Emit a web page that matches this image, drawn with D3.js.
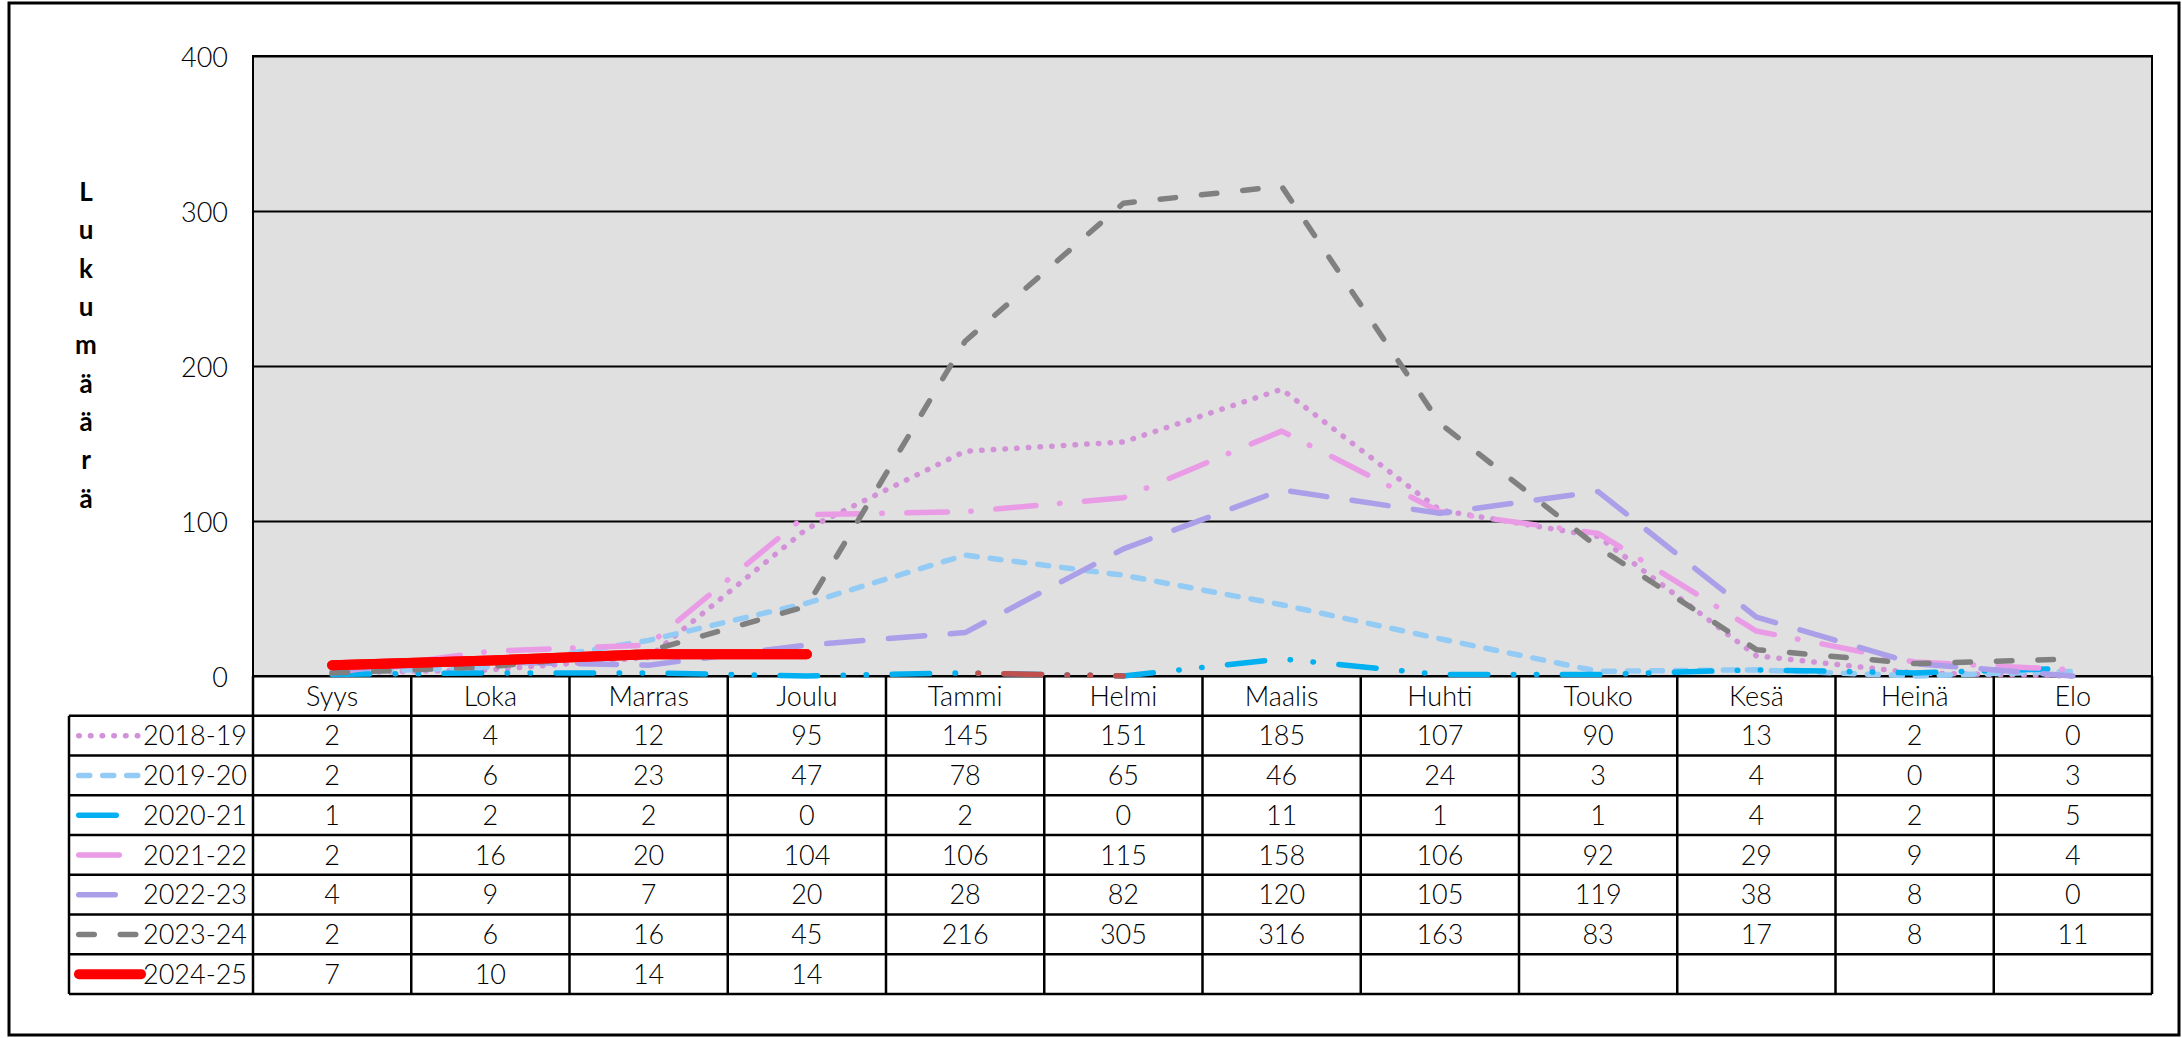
<!DOCTYPE html>
<html>
<head>
<meta charset="utf-8">
<script src="https://cdn.jsdelivr.net/npm/d3@7"></script>
<style>
  body { margin: 0; background: #fff; }
  svg text { font-family: "Century Gothic", Lato, sans-serif; font-weight: 300; fill: #000; }
</style>
</head>
<body>
<svg id="chart" width="2182" height="1038"></svg>
<script>
// months on the x axis / table header
var months = ["Syys", "Loka", "Marras", "Joulu", "Tammi", "Helmi", "Maalis", "Huhti", "Touko", "Kesä", "Heinä", "Elo"]
var seasons = ["2018-19", "2019-20", "2020-21", "2021-22", "2022-23", "2023-24", "2024-25"]

var v2018 = [2, 4, 12, 95, 145, 151, 185, 107, 90, 13, 2, 0]
var v2019 = [2, 6, 23, 47, 78, 65, 46, 24, 3, 4, 0, 3]
var v2020 = [1, 2, 2, 0, 2, 0, 11, 1, 1, 4, 2, 5]
var v2021 = [2, 16, 20, 104, 106, 115, 158, 106, 92, 29, 9, 4]
var v2022 = [4, 9, 7, 20, 28, 82, 120, 105, 119, 38, 8, 0]
var v2023 = [2, 6, 16, 45, 216, 305, 316, 163, 83, 17, 8, 11]
var v2024 = [7, 10, 14, 14]

var yTicks = [0, 100, 200, 300, 400]
var yTitle = "Lukumäärä"

// line styles per season
var styles = [
    {color: "#d292d8", width: 5.5, dash: "0.5,11.2"},
    {color: "#93cbf5", width: 5.5, dash: "11,13"},
    {color: "#00b0f0", width: 5.5, dash: "37.5,25.5,0.5,22.5,0.5,25.5"},
    {color: "#ea9be6", width: 5.5, dash: "40.5,23.5,0.5,24.5"},
    {color: "#aa9fe8", width: 5.5, dash: "36.5,25.5"},
    {color: "#808080", width: 5.5, dash: "15.5,26"},
    {color: "#ff0000", width: 10, dash: null}
]

var series = [v2018, v2019, v2020, v2021, v2022, v2023, v2024].map(function(vals, i) {
    return {name: seasons[i], values: vals, style: styles[i]}
})

var margin = {top: 56, right: 30, left: 253, bottom: 676}
var plotRight = 2152
var legendLeft = 69
var tableBottom = 994

var svg = d3.select("#chart")

// outer frame
svg.append("rect")
    .attr("x", 9).attr("y", 3)
    .attr("width", 2170).attr("height", 1032)
    .attr("fill", "none").attr("stroke", "#000").attr("stroke-width", 3)

var x = d3.scaleBand()
    .domain(months)
    .range([margin.left, plotRight])
    .paddingInner(0).paddingOuter(0)

var y = d3.scaleLinear()
    .domain([0, 400])
    .range([margin.bottom, margin.top])

// plot background
svg.append("rect")
    .attr("x", margin.left).attr("y", margin.top)
    .attr("width", plotRight - margin.left)
    .attr("height", margin.bottom - margin.top)
    .attr("fill", "#e0e0e0")
    .attr("stroke", "#000").attr("stroke-width", 2)

// gridlines + tick labels
var yAxis = svg.append("g")
    .attr("transform", "translate(" + margin.left + ",0)")
    .call(d3.axisLeft(y)
        .tickValues(yTicks)
        .tickSizeInner(-(plotRight - margin.left))
        .tickSizeOuter(0)
        .tickPadding(25))
yAxis.select(".domain").remove()
yAxis.selectAll("line").attr("stroke", "#000").attr("stroke-width", 2)
yAxis.selectAll("text")
    .attr("font-size", 27)
    .attr("dy", "0.38em")
    .style("font-family", "'Century Gothic', Lato, sans-serif")
    .style("font-weight", 300)

// vertical axis title, one letter per line
svg.append("g").selectAll("text")
    .data(yTitle.split(""))
    .enter()
    .append("text")
    .attr("x", 86)
    .attr("y", function(d, i) { return 192 + i * 38.3 })
    .attr("dy", "0.35em")
    .attr("text-anchor", "middle")
    .attr("font-size", 26)
    .style("font-weight", "bold")
    .text(function(d) { return d })

// lines
var line = d3.line()
    .x(function(d, i) { return x(months[i]) + x.bandwidth() / 2 })
    .y(function(d) { return y(d) })

var lines = svg.append("g")
series.forEach(function(s) {
    lines.append("path")
        .datum(s.values)
        .attr("d", line)
        .attr("fill", "none")
        .attr("stroke", s.style.color)
        .attr("stroke-width", s.style.width)
        .attr("stroke-linecap", "round")
        .attr("stroke-linejoin", "round")
        .attr("stroke-dasharray", s.style.dash)
})

// 2020-21: Tammi -> Helmi segment is drawn in a different colour in the original
var s2020 = series[2]
var tmp = lines.append("path").attr("d", line(s2020.values.slice(0, 5)))
var offset = tmp.node().getTotalLength()
tmp.remove()
var segLine = d3.line()
    .x(function(d, i) { return x(months[i + 4]) + x.bandwidth() / 2 })
    .y(function(d) { return y(d) })
lines.append("path")
    .datum(s2020.values.slice(4, 6))
    .attr("d", segLine)
    .attr("fill", "none")
    .attr("stroke", "#c0504d")
    .attr("stroke-width", s2020.style.width)
    .attr("stroke-linecap", "round")
    .attr("stroke-dasharray", s2020.style.dash)
    .attr("stroke-dashoffset", offset)

// re-draw the current season on top
lines.append("path")
    .datum(series[6].values)
    .attr("d", line)
    .attr("fill", "none")
    .attr("stroke", series[6].style.color)
    .attr("stroke-width", series[6].style.width)
    .attr("stroke-linecap", "round")

// data table
var rows = d3.scaleBand()
    .domain(["header"].concat(seasons))
    .range([margin.bottom, tableBottom])

var table = svg.append("g")

// header
table.selectAll(".hdr")
    .data(months)
    .enter()
    .append("text")
    .attr("class", "hdr")
    .attr("x", function(d) { return x(d) + x.bandwidth() / 2 })
    .attr("y", rows("header") + rows.bandwidth() / 2)
    .attr("dy", "0.36em")
    .attr("text-anchor", "middle")
    .attr("font-size", 27)
    .text(function(d) { return d })

var rowG = table.selectAll(".row")
    .data(series)
    .enter()
    .append("g")
    .attr("class", "row")
    .attr("transform", function(d) { return "translate(0," + rows(d.name) + ")" })

rowG.selectAll(".val")
    .data(function(d) { return d.values })
    .enter()
    .append("text")
    .attr("class", "val")
    .attr("x", function(d, i) { return x(months[i]) + x.bandwidth() / 2 })
    .attr("y", rows.bandwidth() / 2)
    .attr("dy", "0.36em")
    .attr("text-anchor", "middle")
    .attr("font-size", 27)
    .text(function(d) { return d })

// legend label + sample line
rowG.append("text")
    .attr("x", 247)
    .attr("y", rows.bandwidth() / 2)
    .attr("dy", "0.36em")
    .attr("text-anchor", "end")
    .attr("font-size", 27)
    .text(function(d) { return d.name })

rowG.append("line")
    .attr("x1", function(d) { return d.style.width > 6 ? 79 : 78.75 })
    .attr("x2", function(d) { return d.style.width > 6 ? 141 : 140 })
    .attr("y1", rows.bandwidth() / 2)
    .attr("y2", rows.bandwidth() / 2)
    .attr("stroke", function(d) { return d.style.color })
    .attr("stroke-width", function(d) { return d.style.width })
    .attr("stroke-linecap", "round")
    .attr("stroke-dasharray", function(d) { return d.style.dash })

// table grid
var hLines = seasons.map(function(s) { return rows(s) }).concat([tableBottom])
table.selectAll(".hl")
    .data(hLines)
    .enter()
    .append("line")
    .attr("x1", legendLeft).attr("x2", plotRight)
    .attr("y1", function(d) { return d }).attr("y2", function(d) { return d })
    .attr("stroke", "#000").attr("stroke-width", 2.5)

var vLines = months.map(function(m) { return x(m) }).concat([plotRight])
table.selectAll(".vl")
    .data(vLines)
    .enter()
    .append("line")
    .attr("x1", function(d) { return d }).attr("x2", function(d) { return d })
    .attr("y1", margin.bottom).attr("y2", tableBottom)
    .attr("stroke", "#000").attr("stroke-width", 2.5)

table.append("line")
    .attr("x1", legendLeft).attr("x2", legendLeft)
    .attr("y1", rows(seasons[0])).attr("y2", tableBottom)
    .attr("stroke", "#000").attr("stroke-width", 2.5)
</script>
</body>
</html>
